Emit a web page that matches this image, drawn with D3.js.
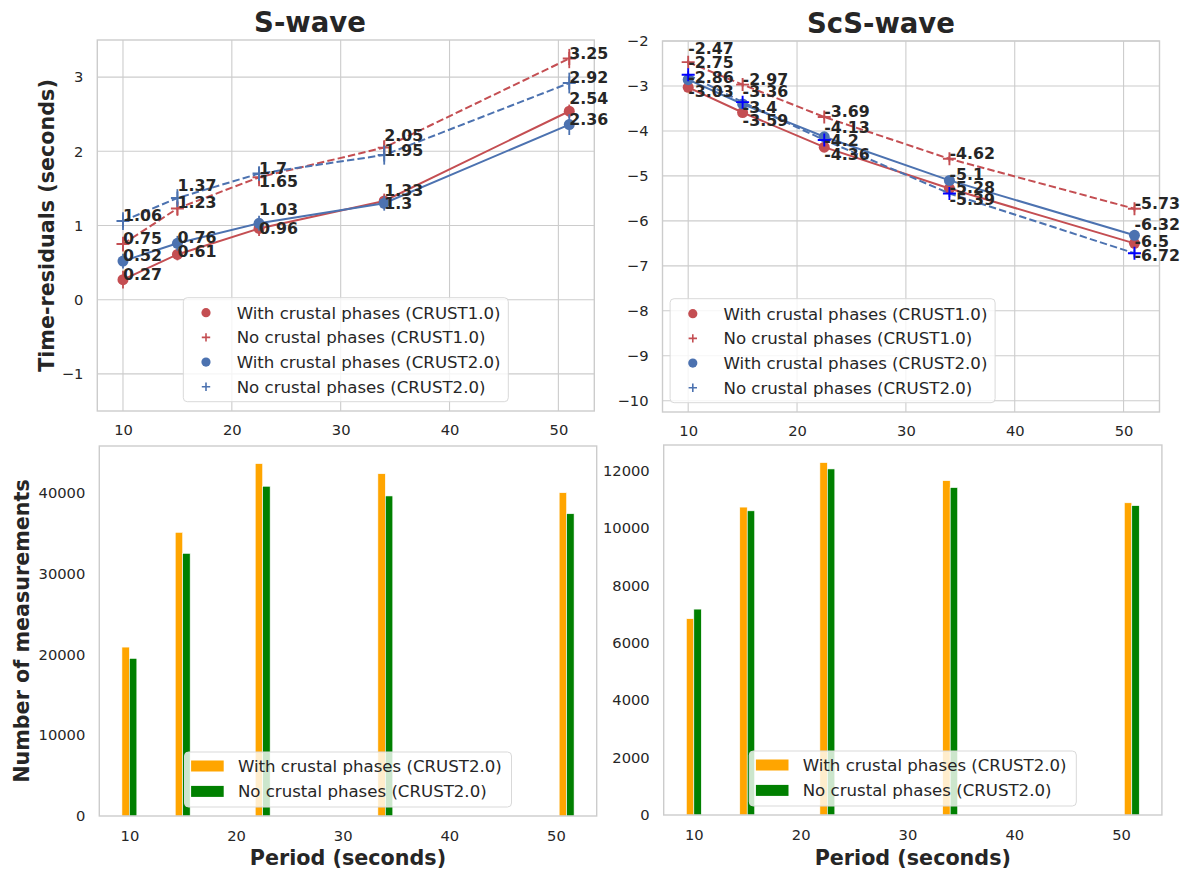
<!DOCTYPE html>
<html><head><meta charset="utf-8">
<script src="https://cdn.jsdelivr.net/npm/d3@7"></script>
<style>
body{margin:0;background:#fff;}
svg{display:block;font-family:"DejaVu Sans",sans-serif;}
</style>
</head><body>
<svg id="c" width="1189" height="875"></svg>
<script>
// ---------------- data ----------------
const periods = [10, 15, 22.5, 34, 51];
const xTickValues = [10, 20, 30, 40, 50];

// S-wave time residuals (seconds)
const sWithC1 = [0.27, 0.61, 0.96, 1.33, 2.54];
const sNoC1   = [0.75, 1.23, 1.65, 2.05, 3.25];
const sWithC2 = [0.52, 0.76, 1.03, 1.3, 2.36];
const sNoC2   = [1.06, 1.37, 1.7, 1.95, 2.92];
const sWithC1Err = [0.12, 0.08, 0.1, 0.1, 0.09];
const sNoC1Err   = [0.1, 0.1, 0.12, 0.1, 0.13];
const sWithC2Err = [0.1, 0.1, 0.1, 0.1, 0.14];
const sNoC2Err   = [0.12, 0.12, 0.1, 0.13, 0.14];

// ScS-wave time residuals (seconds)
const scsWithC1 = [-3.03, -3.59, -4.36, -5.28, -6.5];
const scsNoC1   = [-2.47, -2.97, -3.69, -4.62, -5.73];
const scsWithC2 = [-2.86, -3.4, -4.13, -5.1, -6.32];
const scsNoC2   = [-2.75, -3.36, -4.2, -5.39, -6.72];
const scsWithC1Err = [0.06, 0.06, 0.06, 0.07, 0.07];
const scsNoC1Err   = [0.05, 0.05, 0.05, 0.06, 0.06];
const scsWithC2Err = [0.06, 0.06, 0.06, 0.07, 0.07];
const scsNoC2Err   = [0.08, 0.07, 0.07, 0.08, 0.09];

// Number of measurements
const sCountWith = [20900, 35100, 43600, 42350, 40000];
const sCountNo   = [19500, 32500, 40800, 39600, 37400];
const scsCountWith = [6840, 10730, 12280, 11650, 10880];
const scsCountNo   = [7175, 10600, 12060, 11410, 10780];

// tick labels
const sYTicks = [-1, 0, 1, 2, 3];
const scsYTicks = [-10, -9, -8, -7, -6, -5, -4, -3, -2];
const sCountTicks = [0, 10000, 20000, 30000, 40000];
const scsCountTicks = [0, 2000, 4000, 6000, 8000, 10000, 12000];

// legend labels
const lineLegendLabels = ["With crustal phases (CRUST1.0)", "No crustal phases (CRUST1.0)",
                          "With crustal phases (CRUST2.0)", "No crustal phases (CRUST2.0)"];
const barLegendLabels = ["With crustal phases (CRUST2.0)", "No crustal phases (CRUST2.0)"];

// label vertical nudges (px) to avoid overlap, per series per period
const sLabelDy   = [[0,3,6,-5,-7],[0,0,10,-7,0],[0,0,-8,6,0],[0,-7,0,1,0]];
const scsLabelDy = [[10,13,13,4,4],[-8,0,0,0,0],[3,9,-4,0,-5],[-7,-5,6,12,8]];

// ---------------- style ----------------
const RED = "#c44e52", BLUE = "#4c72b0", ORANGE = "#ffa500", GREEN = "#008000";
const TXT = "#262626", GRID = "#cccccc";
const TICK_FS = 14.7, LEG_FS = 16.6, ANN_FS = 15.8, LAB_FS = 20.7, TITLE_FS = 27.5;

const svg = d3.select("#c");

const TL = {x0: 97.3, x1: 594.3, y0: 40, y1: 411};
const TR = {x0: 662.5, x1: 1159.5, y0: 41, y1: 412};
const BL = {x0: 99.3, x1: 596.7, y0: 446, y1: 816};
const BR = {x0: 663.7, x1: 1161.9, y0: 445, y1: 815};
const topXDomain = [7.64, 53.3];
const intFmt = d3.format("d");

function plusPath(s){ return `M${-s},0H${s}M0,${-s}V${s}`; }

function styleAxis(g){
  g.select(".domain").remove();
  g.selectAll("text").attr("fill", TXT).style("font-size", TICK_FS + "px").style("font-family", '"DejaVu Sans"');
}

function drawLinePanel(box, yDomain, yTicks, series, title, titleX, titleY, legendLoc){
  const x = d3.scaleLinear().domain(topXDomain).range([box.x0, box.x1]);
  const y = d3.scaleLinear().domain(yDomain).range([box.y1, box.y0]);
  const g = svg.append("g");
  // grid
  g.selectAll("line.vg").data(xTickValues).join("line").attr("class","vg")
    .attr("x1", d => x(d)).attr("x2", d => x(d)).attr("y1", box.y0).attr("y2", box.y1)
    .attr("stroke", GRID).attr("stroke-width", 1.1);
  g.selectAll("line.hg").data(yTicks).join("line").attr("class","hg")
    .attr("x1", box.x0).attr("x2", box.x1).attr("y1", d => y(d)).attr("y2", d => y(d))
    .attr("stroke", GRID).attr("stroke-width", 1.1);
  g.append("rect").attr("x", box.x0).attr("y", box.y0).attr("width", box.x1 - box.x0)
    .attr("height", box.y1 - box.y0).attr("fill", "none").attr("stroke", GRID).attr("stroke-width", 1.4);
  // axes
  g.append("g").attr("transform", `translate(0,${box.y1})`)
    .call(d3.axisBottom(x).tickValues(xTickValues).tickSize(0).tickPadding(14).tickFormat(intFmt)).call(styleAxis);
  g.append("g").attr("transform", `translate(${box.x0},0)`)
    .call(d3.axisLeft(y).tickValues(yTicks).tickSize(0).tickPadding(14).tickFormat(intFmt)).call(styleAxis);
  // series
  series.forEach(s => {
    const pts = periods.map((p, i) => ({x: p, y: s.values[i], e: s.errs[i], dy: s.labelDy[i]}));
    g.append("path").datum(pts)
      .attr("d", d3.line().x(d => x(d.x)).y(d => y(d.y)))
      .attr("fill", "none").attr("stroke", s.color).attr("stroke-width", 2)
      .attr("stroke-dasharray", s.dashed ? "7.4,3.2" : null);
    g.selectAll(null).data(pts).join("line")
      .attr("x1", d => x(d.x)).attr("x2", d => x(d.x))
      .attr("y1", d => y(d.y - d.e)).attr("y2", d => y(d.y + d.e))
      .attr("stroke", s.color).attr("stroke-width", 1.8);
    if (s.marker === "o") {
      g.selectAll(null).data(pts).join("circle")
        .attr("cx", d => x(d.x)).attr("cy", d => y(d.y)).attr("r", 5.5).attr("fill", s.markerColor);
    } else {
      g.selectAll(null).data(pts).join("path")
        .attr("transform", d => `translate(${x(d.x)},${y(d.y)})`)
        .attr("d", plusPath(6.5)).attr("stroke", s.markerColor).attr("stroke-width", 1.9).attr("fill", "none");
    }
  });
  // annotations
  series.forEach(s => {
    const pts = periods.map((p, i) => ({x: p, y: s.values[i], dy: s.labelDy[i]}));
    g.selectAll(null).data(pts).join("text")
      .attr("x", d => x(d.x)).attr("y", d => y(d.y) + d.dy)
      .attr("fill", TXT).style("font-size", ANN_FS + "px").style("font-weight", "bold")
      .text(d => String(d.y));
  });
  // title
  g.append("text").attr("x", titleX).attr("y", titleY).attr("text-anchor", "middle")
    .attr("fill", TXT).style("font-size", TITLE_FS + "px").style("font-weight", "bold").text(title);
  // legend
  const lw = 325, lh = 104;
  const lx = legendLoc === "center" ? (box.x0 + box.x1) / 2 - lw / 2 : box.x0 + 7.6;
  const ly = box.y1 - 9.3 - lh;
  const lg = g.append("g").attr("transform", `translate(${lx},${ly})`);
  lg.append("rect").attr("width", lw).attr("height", lh).attr("rx", 4)
    .attr("fill", "#fff").attr("fill-opacity", 0.8).attr("stroke", "#d9d9d9").attr("stroke-width", 1);
  series.forEach((s, i) => {
    const cy = 15 + i * 24.7;
    if (s.marker === "o") {
      lg.append("circle").attr("cx", 22.7).attr("cy", cy).attr("r", 4.6).attr("fill", s.color);
    } else {
      lg.append("path").attr("transform", `translate(22.7,${cy})`).attr("d", plusPath(4.2))
        .attr("stroke", s.color).attr("stroke-width", 1.6);
    }
    lg.append("text").attr("x", 53.4).attr("y", cy).attr("dy", "0.36em").attr("fill", TXT)
      .style("font-size", LEG_FS + "px").text(lineLegendLabels[i]);
  });
}

function drawBarPanel(box, withVals, noVals, yTicks){
  const barW = 0.7;
  const lo = d3.min(periods) - barW, hi = d3.max(periods) + barW, span = hi - lo;
  const x = d3.scaleLinear().domain([lo - 0.05 * span, hi + 0.05 * span]).range([box.x0, box.x1]);
  const ymax = d3.max(withVals.concat(noVals)) * 1.05;
  const y = d3.scaleLinear().domain([0, ymax]).range([box.y1, box.y0]);
  const g = svg.append("g");
  g.selectAll(null).data(periods.map((p, i) => ({p, v: withVals[i]}))).join("rect")
    .attr("x", d => x(d.p - barW)).attr("width", d => x(d.p) - x(d.p - barW))
    .attr("y", d => y(d.v)).attr("height", d => y(0) - y(d.v))
    .attr("fill", ORANGE).attr("stroke", "#fff").attr("stroke-width", 0.6);
  g.selectAll(null).data(periods.map((p, i) => ({p, v: noVals[i]}))).join("rect")
    .attr("x", d => x(d.p)).attr("width", d => x(d.p + barW) - x(d.p))
    .attr("y", d => y(d.v)).attr("height", d => y(0) - y(d.v))
    .attr("fill", GREEN).attr("stroke", "#fff").attr("stroke-width", 0.6);
  g.append("rect").attr("x", box.x0).attr("y", box.y0).attr("width", box.x1 - box.x0)
    .attr("height", box.y1 - box.y0).attr("fill", "none").attr("stroke", GRID).attr("stroke-width", 1.4);
  g.append("g").attr("transform", `translate(0,${box.y1})`)
    .call(d3.axisBottom(x).tickValues(xTickValues).tickSize(0).tickPadding(15).tickFormat(intFmt)).call(styleAxis);
  g.append("g").attr("transform", `translate(${box.x0},0)`)
    .call(d3.axisLeft(y).tickValues(yTicks).tickSize(0).tickPadding(14).tickFormat(intFmt)).call(styleAxis);
  // x label
  g.append("text").attr("x", (box.x0 + box.x1) / 2).attr("y", 865).attr("text-anchor", "middle")
    .attr("fill", TXT).style("font-size", LAB_FS + "px").style("font-weight", "bold").text("Period (seconds)");
  // legend
  const lw = 327, lh = 55;
  const lx = (box.x0 + box.x1) / 2 - lw / 2, ly = box.y1 - 9 - lh;
  const lg = g.append("g").attr("transform", `translate(${lx},${ly})`);
  lg.append("rect").attr("width", lw).attr("height", lh).attr("rx", 4)
    .attr("fill", "#fff").attr("fill-opacity", 0.8).attr("stroke", "#d9d9d9").attr("stroke-width", 1);
  [ORANGE, GREEN].forEach((c, i) => {
    const cy = 14 + i * 25.4;
    lg.append("rect").attr("x", 6.6).attr("y", cy - 5.5).attr("width", 32.6).attr("height", 11).attr("fill", c);
    lg.append("text").attr("x", 53.4).attr("y", cy).attr("dy", "0.36em").attr("fill", TXT)
      .style("font-size", LEG_FS + "px").text(barLegendLabels[i]);
  });
}

drawLinePanel(TL, [-1.5, 3.5], sYTicks, [
  {values: sWithC1, errs: sWithC1Err, color: RED, markerColor: RED, dashed: false, marker: "o", labelDy: sLabelDy[0]},
  {values: sNoC1, errs: sNoC1Err, color: RED, markerColor: RED, dashed: true, marker: "+", labelDy: sLabelDy[1]},
  {values: sWithC2, errs: sWithC2Err, color: BLUE, markerColor: BLUE, dashed: false, marker: "o", labelDy: sLabelDy[2]},
  {values: sNoC2, errs: sNoC2Err, color: BLUE, markerColor: BLUE, dashed: true, marker: "+", labelDy: sLabelDy[3]}
], "S-wave", 310, 31.5, "center");

drawLinePanel(TR, [-10.25, -2], scsYTicks, [
  {values: scsWithC1, errs: scsWithC1Err, color: RED, markerColor: RED, dashed: false, marker: "o", labelDy: scsLabelDy[0]},
  {values: scsNoC1, errs: scsNoC1Err, color: RED, markerColor: RED, dashed: true, marker: "+", labelDy: scsLabelDy[1]},
  {values: scsWithC2, errs: scsWithC2Err, color: BLUE, markerColor: BLUE, dashed: false, marker: "o", labelDy: scsLabelDy[2]},
  {values: scsNoC2, errs: scsNoC2Err, color: BLUE, markerColor: "#0000ff", dashed: true, marker: "+", labelDy: scsLabelDy[3]}
], "ScS-wave", 881, 33, "left");

drawBarPanel(BL, sCountWith, sCountNo, sCountTicks);
drawBarPanel(BR, scsCountWith, scsCountNo, scsCountTicks);

// y labels
svg.append("text").attr("transform", "translate(53.5,225.5) rotate(-90)").attr("text-anchor", "middle")
  .attr("fill", TXT).style("font-size", LAB_FS + "px").style("font-weight", "bold").text("Time-residuals (seconds)");
svg.append("text").attr("transform", "translate(29,631) rotate(-90)").attr("text-anchor", "middle")
  .attr("fill", TXT).style("font-size", LAB_FS + "px").style("font-weight", "bold").text("Number of measurements");
</script>
</body></html>
